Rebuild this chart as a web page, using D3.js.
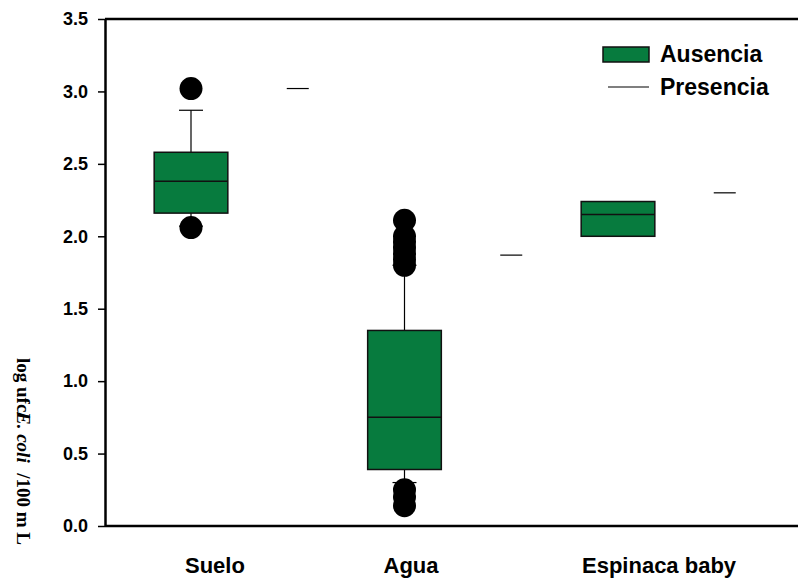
<!DOCTYPE html>
<html>
<head>
<meta charset="utf-8">
<script src="https://cdn.jsdelivr.net/npm/d3@7"></script>
<style>
  html, body { margin: 0; padding: 0; background: #fff; }
  svg { display: block; }
</style>
</head>
<body>
<svg id="chart" width="798" height="578"></svg>
<script>
// Categories and box statistics (log ufc E. coli / 100 mL)
const categories = ["Suelo", "Agua", "Espinaca baby"];
const boxQ1      = [2.16, 0.39, 2.00];
const boxMedian  = [2.38, 0.75, 2.15];
const boxQ3      = [2.58, 1.35, 2.24];
const whiskerLow  = [2.07, 0.30, null];
const whiskerHigh = [2.87, 1.80, null];
const outliers = [
  [3.02, 2.06],
  [2.11, 2.00, 1.96, 1.92, 1.88, 1.84, 1.80, 0.25, 0.20, 0.14],
  []
];
// Single "Presencia" value per category
const presencia = [3.02, 1.87, 2.30];
const yTicks = [0, 0.5, 1.0, 1.5, 2.0, 2.5, 3.0, 3.5];
const legendLabels = ["Ausencia", "Presencia"];

const boxFill = "#077b3e";
const svg = d3.select("#chart");

const plot = { left: 105, right: 798, top: 19, bottom: 526 };

// Slots: box for category i at 2i, presence mark at 2i+1
const x = d3.scaleLinear().domain([0, 5]).range([191, 724.75]);
const slot = x(1) - x(0);
const boxW = slot * 0.69;
const capW = 24;
const presW = 22;

const y = d3.scaleLinear().domain([0, 3.5]).range([plot.bottom, plot.top]);

// Frame: top and bottom lines
svg.append("line")
  .attr("x1", plot.left).attr("x2", plot.right)
  .attr("y1", plot.top).attr("y2", plot.top)
  .attr("stroke", "#000").attr("stroke-width", 2.5);
svg.append("line")
  .attr("x1", plot.left).attr("x2", plot.right)
  .attr("y1", plot.bottom).attr("y2", plot.bottom)
  .attr("stroke", "#000").attr("stroke-width", 2.5);

// Y axis
const yAxis = svg.append("g")
  .attr("transform", `translate(${plot.left},0)`)
  .call(d3.axisLeft(y).tickValues(yTicks).tickFormat(d3.format(".1f"))
        .tickSize(7).tickSizeOuter(0).tickPadding(10));
yAxis.select(".domain").attr("stroke", "#000").attr("stroke-width", 2.5);
yAxis.selectAll(".tick line").attr("stroke", "#000").attr("stroke-width", 1.5);
yAxis.selectAll(".tick text")
  .attr("fill", "#000")
  .style("font-family", "'Liberation Sans', Arial, sans-serif")
  .style("font-weight", "bold")
  .style("font-size", "18px");

// Box plots (Ausencia)
const groups = svg.append("g");
categories.forEach((c, i) => {
  const cx = x(2 * i);
  const g = groups.append("g");
  // whiskers
  if (whiskerHigh[i] != null) {
    g.append("line").attr("x1", cx).attr("x2", cx)
      .attr("y1", y(boxQ3[i])).attr("y2", y(whiskerHigh[i]))
      .attr("stroke", "#000").attr("stroke-width", 1.2);
    g.append("line").attr("x1", cx - capW / 2).attr("x2", cx + capW / 2)
      .attr("y1", y(whiskerHigh[i])).attr("y2", y(whiskerHigh[i]))
      .attr("stroke", "#000").attr("stroke-width", 1.2);
  }
  if (whiskerLow[i] != null) {
    g.append("line").attr("x1", cx).attr("x2", cx)
      .attr("y1", y(boxQ1[i])).attr("y2", y(whiskerLow[i]))
      .attr("stroke", "#000").attr("stroke-width", 1.2);
    g.append("line").attr("x1", cx - capW / 2).attr("x2", cx + capW / 2)
      .attr("y1", y(whiskerLow[i])).attr("y2", y(whiskerLow[i]))
      .attr("stroke", "#000").attr("stroke-width", 1.2);
  }
  // box
  g.append("rect")
    .attr("x", cx - boxW / 2).attr("width", boxW)
    .attr("y", y(boxQ3[i])).attr("height", y(boxQ1[i]) - y(boxQ3[i]))
    .attr("fill", boxFill).attr("stroke", "#111").attr("stroke-width", 1.5);
  // median
  g.append("line")
    .attr("x1", cx - boxW / 2).attr("x2", cx + boxW / 2)
    .attr("y1", y(boxMedian[i])).attr("y2", y(boxMedian[i]))
    .attr("stroke", "#111").attr("stroke-width", 1.5);
  // outliers
  g.selectAll("circle").data(outliers[i]).join("circle")
    .attr("cx", cx).attr("cy", d => y(d)).attr("r", 11.5)
    .attr("fill", "#000");
  // presence mark
  const px = x(2 * i + 1);
  g.append("line")
    .attr("x1", px - presW / 2).attr("x2", px + presW / 2)
    .attr("y1", y(presencia[i])).attr("y2", y(presencia[i]))
    .attr("stroke", "#000").attr("stroke-width", 1.2);
});

// Category labels
const labelX = d3.scalePoint().domain(categories).range([185, 582]);
svg.append("g").selectAll("text").data(categories).join("text")
  .attr("x", d => labelX(d)).attr("y", 573)
  .attr("text-anchor", "start")
  .style("font-family", "'Liberation Sans', Arial, sans-serif")
  .style("font-weight", "bold")
  .style("font-size", "22px")
  .attr("fill", "#000")
  .text(d => d);

// Legend
const lg = svg.append("g");
lg.append("rect").attr("x", 603).attr("y", 47).attr("width", 46).attr("height", 15)
  .attr("fill", boxFill).attr("stroke", "#111").attr("stroke-width", 1.5);
lg.append("line").attr("x1", 608).attr("x2", 649).attr("y1", 87).attr("y2", 87)
  .attr("stroke", "#000").attr("stroke-width", 1.2);
lg.selectAll("text").data(legendLabels).join("text")
  .attr("x", 660).attr("y", (d, i) => 62 + i * 33)
  .style("font-family", "'Liberation Sans', Arial, sans-serif")
  .style("font-weight", "bold")
  .style("font-size", "23px")
  .attr("fill", "#000")
  .text(d => d);

// Y axis title (rotated, reading downward)
const yt = svg.append("g").attr("transform", "translate(17,0) rotate(90)");
const titleStyle = sel => sel
  .style("font-family", "'Liberation Serif', 'Times New Roman', serif")
  .style("font-weight", "bold")
  .style("font-size", "19px")
  .attr("fill", "#000");
yt.append("text").attr("x", 358).attr("y", 0).call(titleStyle).text("log ufc/");
yt.append("text").attr("x", 412).attr("y", 0).call(titleStyle)
  .style("font-style", "italic").text("E. coli");
yt.append("text").attr("x", 545).attr("y", 0).attr("text-anchor", "end")
  .call(titleStyle).text("/100 m L");
</script>
</body>
</html>
